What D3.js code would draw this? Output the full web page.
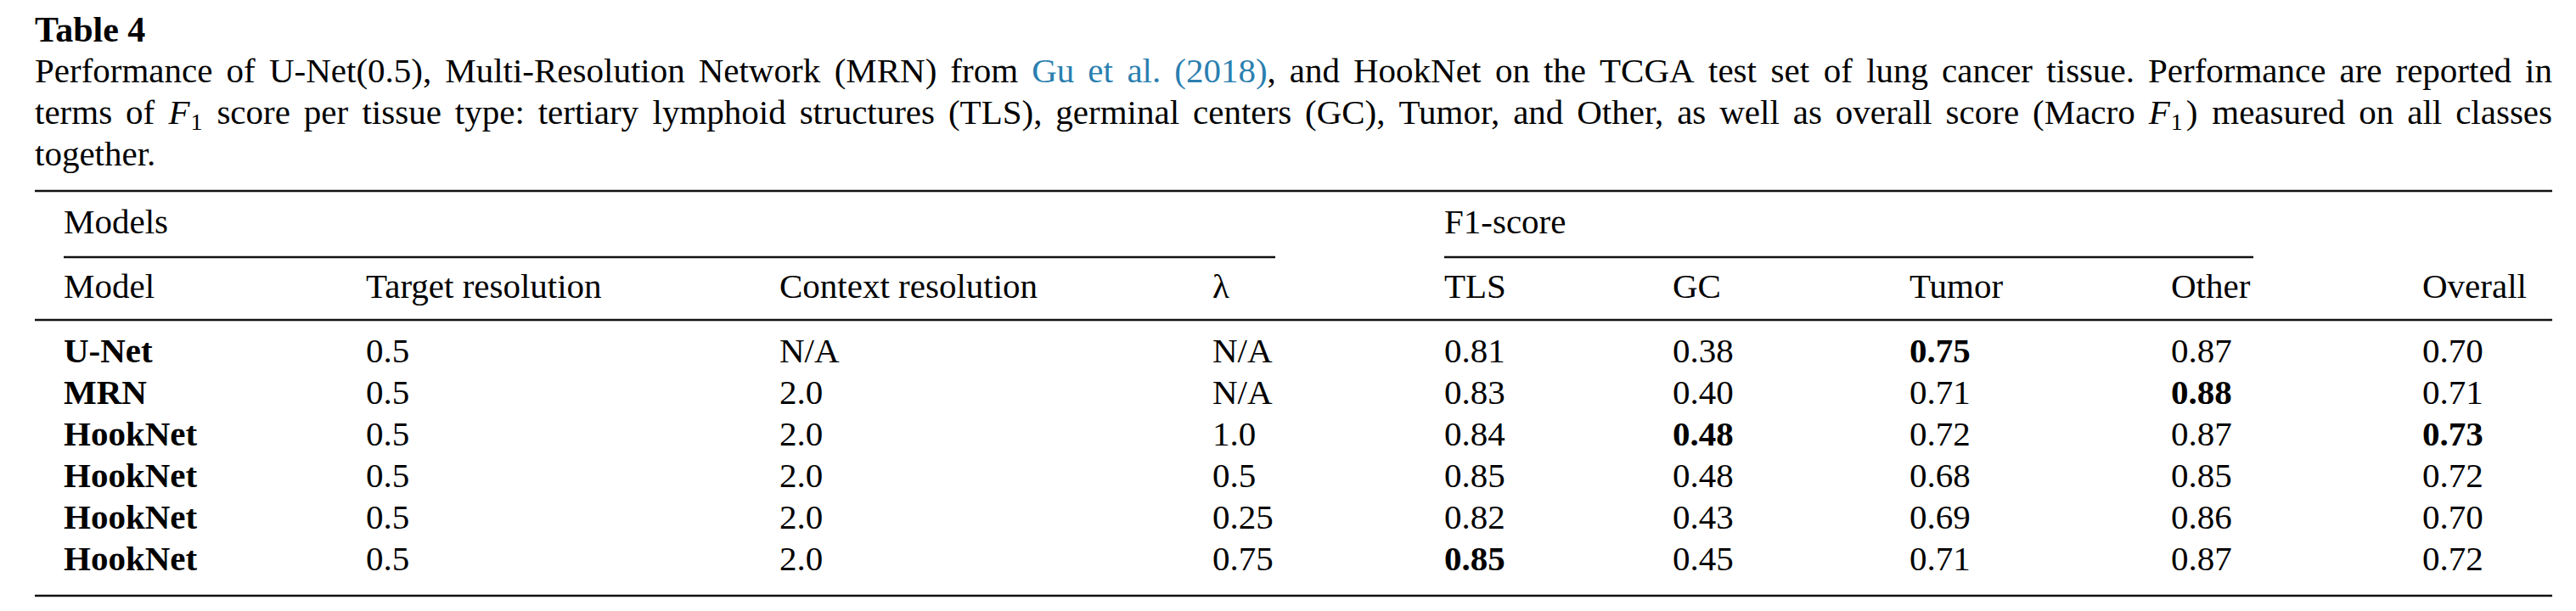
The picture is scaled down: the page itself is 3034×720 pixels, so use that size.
<!DOCTYPE html>
<html>
<head>
<meta charset="utf-8">
<script src="https://cdn.jsdelivr.net/npm/d3@7"></script>
<style>
  html, body { margin: 0; padding: 0; background: #fff; }
  svg { display: block; }
</style>
</head>
<body>
<div id="chart"></div>
<script>
// ---------- DATA ----------
const tableTitle = "Table 4";
const captionLines = [
  "Performance of U-Net(0.5), Multi-Resolution Network (MRN) from [Gu et al. (2018)], and HookNet on the TCGA test set of lung cancer tissue. Performance are reported in",
  "terms of {F1} score per tissue type: tertiary lymphoid structures (TLS), germinal centers (GC), Tumor, and Other, as well as overall score (Macro {F1}) measured on all classes",
  "together."
];
const groupHeaders = ["Models", "F1-score"];
const columnKeys = ["model", "target", "context", "lambda", "tls", "gc", "tumor", "other", "overall"];
const columnHeaders = ["Model", "Target resolution", "Context resolution", "λ", "TLS", "GC", "Tumor", "Other", "Overall"];

const models     = ["U-Net", "MRN", "HookNet", "HookNet", "HookNet", "HookNet"];
const targetRes  = ["0.5", "0.5", "0.5", "0.5", "0.5", "0.5"];
const contextRes = ["N/A", "2.0", "2.0", "2.0", "2.0", "2.0"];
const lambdas    = ["N/A", "N/A", "1.0", "0.5", "0.25", "0.75"];
const tls        = [0.81, 0.83, 0.84, 0.85, 0.82, 0.85];
const gc         = [0.38, 0.40, 0.48, 0.48, 0.43, 0.45];
const tumor      = [0.75, 0.71, 0.72, 0.68, 0.69, 0.71];
const other      = [0.87, 0.88, 0.87, 0.85, 0.86, 0.87];
const overall    = [0.70, 0.71, 0.73, 0.72, 0.70, 0.72];
// best value per column (shown bold): [row index, column key]
const boldCells  = [[0, "tumor"], [1, "other"], [2, "gc"], [2, "overall"], [5, "tls"]];

// ---------- LAYOUT ----------
const W = 3034, H = 720;
const FONT = "'Liberation Serif', 'Times New Roman', serif";
const FS = 41;
const LINK = "#2b7fb0";
const left = 41, right = 3006;

const svg = d3.select("#chart").append("svg")
  .attr("width", W).attr("height", H)
  .attr("viewBox", `0 0 ${W} ${H}`);
svg.append("rect").attr("width", W).attr("height", H).attr("fill", "#fff");

const g = svg.append("g").attr("font-family", FONT).attr("font-size", FS).attr("fill", "#000");

// Title
g.append("text").attr("x", left).attr("y", 49).attr("font-weight", "bold")
  .attr("font-size", 42).text(tableTitle);

// Caption parsing into words made of styled runs
function parseLine(str) {
  const words = [];
  let inLink = false;
  str.split(" ").forEach(tok => {
    const runs = [];
    let buf = "";
    let i = 0;
    const flush = () => { if (buf) { runs.push({ t: buf, link: inLink }); buf = ""; } };
    while (i < tok.length) {
      const c = tok[i];
      if (c === "[") { flush(); inLink = true; i++; continue; }
      if (c === "]") { flush(); inLink = false; i++; continue; }
      if (c === "{") {
        flush();
        const end = tok.indexOf("}", i);
        runs.push({ math: true });
        i = end + 1;
        continue;
      }
      buf += c; i++;
    }
    flush();
    words.push(runs);
  });
  return words;
}

function drawCaptionLine(str, y, justify) {
  const words = parseLine(str);
  const nodes = words.map(runs => {
    const t = g.append("text").attr("y", y);
    let lowered = false;
    runs.forEach(r => {
      if (r.math) {
        t.append("tspan").attr("font-style", "italic").text("F");
        t.append("tspan").attr("font-size", 28).attr("dy", 7).attr("dx", 1).text("1");
        lowered = true;
      } else {
        const ts = t.append("tspan").text(r.t);
        if (r.link) ts.attr("fill", LINK);
        if (lowered) { ts.attr("dy", -7).attr("dx", r.t === ")" ? 4 : 0); lowered = false; }
      }
    });
    return t;
  });
  const widths = nodes.map(n => n.node().getBBox().width);
  const total = d3.sum(widths);
  const gap = justify && nodes.length > 1 ? (right - left - total) / (nodes.length - 1) : FS * 0.25;
  let x = left;
  nodes.forEach((n, i) => { n.attr("x", x); x += widths[i] + gap; });
}
const captionY = [97, 146, 195];
captionLines.forEach((l, i) => drawCaptionLine(l, captionY[i], i < captionLines.length - 1));

// Column scale
const colX = d3.scaleOrdinal().domain(columnKeys)
  .range([75, 431, 918, 1428, 1701, 1970, 2249, 2557, 2853]);
// Row scale
const rowY = d3.scalePoint().domain(d3.range(models.length)).range([427, 672]);

// Rules
const rule = (x1, x2, y, w) => g.append("line")
  .attr("x1", x1).attr("x2", x2).attr("y1", y).attr("y2", y)
  .attr("stroke", "#111").attr("stroke-width", w);
rule(left, right, 225, 2.6);
rule(colX("model"), 1502, 303, 2.6);
rule(colX("tls"), 2654, 303, 2.6);
rule(left, right, 377, 2.6);
rule(left, right, 702, 2.6);

// Group headers
g.append("text").attr("x", colX("model")).attr("y", 275).text(groupHeaders[0]);
g.append("text").attr("x", colX("tls")).attr("y", 275).text(groupHeaders[1]);

// Column headers
g.selectAll("text.colhead").data(columnKeys).join("text")
  .attr("class", "colhead")
  .attr("x", d => colX(d)).attr("y", 351)
  .text((d, i) => columnHeaders[i]);

// Body
const fmt = d3.format(".2f");
const columns = {
  model: models, target: targetRes, context: contextRes, lambda: lambdas,
  tls: tls.map(fmt), gc: gc.map(fmt), tumor: tumor.map(fmt), other: other.map(fmt), overall: overall.map(fmt)
};
const isBold = (r, k) => k === "model" || boldCells.some(([br, bk]) => br === r && bk === k);
const cells = [];
models.forEach((m, r) => columnKeys.forEach(k => cells.push({ r, k, v: columns[k][r] })));
g.selectAll("text.cell").data(cells).join("text")
  .attr("class", "cell")
  .attr("x", d => colX(d.k)).attr("y", d => rowY(d.r))
  .attr("font-weight", d => isBold(d.r, d.k) ? "bold" : null)
  .text(d => d.v);
</script>
</body>
</html>
